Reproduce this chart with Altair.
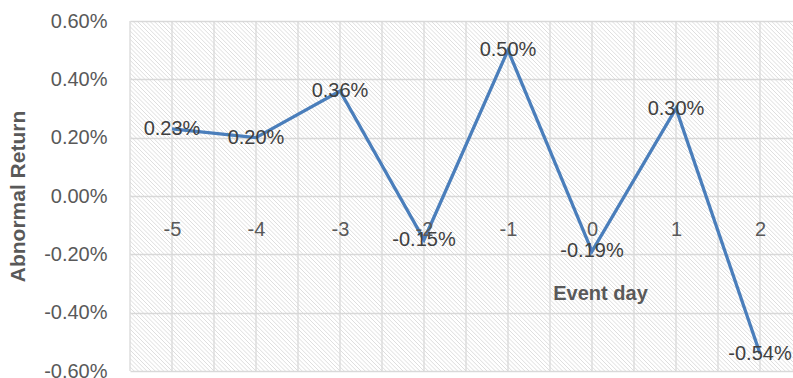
import altair as alt
import pandas as pd

# ---- data ----
days = [-5, -4, -3, -2, -1, 0, 1, 2]
abnormal_return_pct = [0.23, 0.20, 0.36, -0.15, 0.50, -0.19, 0.30, -0.54]
y_ticks_pct = [-0.6, -0.4, -0.2, 0.0, 0.2, 0.4, 0.6]

df = pd.DataFrame({
    "day": days,
    "ar": [v / 100 for v in abnormal_return_pct],
    "label": [f"{v:.2f}%" for v in abnormal_return_pct],
})
grid_df = pd.DataFrame({"g": [d - 0.5 for d in days] + days})

W, H = 663, 350
PX_PER_DAY = 84.0
x_min = days[0] - 0.5
x_max = x_min + W / PX_PER_DAY
y_lo, y_hi = y_ticks_pct[0] / 100, y_ticks_pct[-1] / 100

GRAY = "#595959"
FONT = "Liberation Sans"

x_scale = alt.Scale(domain=[x_min, x_max], nice=False, zero=False)
y_scale = alt.Scale(domain=[y_lo, y_hi], nice=False, zero=False)

x_axis = alt.Axis(
    values=days, labelExpr="'' + datum.value", offset=-175, zindex=1,
    domain=False, ticks=False, grid=False,
    labelBaseline="middle", labelPadding=33, labelFontSize=20, labelColor=GRAY, labelFont=FONT,
    title="Event day", titleX=470, titleY=97, titleBaseline="middle", titleAlign="center",
    titleFontSize=20, titleFontWeight="bold", titleColor=GRAY, titleFont=FONT,
)
y_axis = alt.Axis(
    values=[v / 100 for v in y_ticks_pct],
    labelExpr="replace(format(datum.value, '.2%'), '\u2212', '-')",
    domain=False, ticks=False, grid=True, gridColor="#d9d9d9", gridWidth=1.3,
    labelPadding=23, labelFontSize=20, labelColor=GRAY, labelFont=FONT,
    title="Abnormal Return", titleX=-112, titleY=175, titleAngle=270,
    titleAlign="center", titleBaseline="middle",
    titleFontSize=21, titleFontWeight="bold", titleColor=GRAY, titleFont=FONT,
)

X = alt.X("day:Q", scale=x_scale, axis=x_axis)
Y = alt.Y("ar:Q", scale=y_scale, axis=y_axis)

# diagonal hatch pattern of the plot area (decoration)
span = H / PX_PER_DAY
hatch = (
    alt.Chart(alt.sequence(x_min - span, x_max + 0.05, 0.05, as_="h"))
    .transform_calculate(day="datum.h", day2=f"datum.h + {span}", ar=str(y_hi), ar2=str(y_lo))
    .mark_rule(color="#d6d6d6", strokeWidth=0.8, clip=True)
    .encode(x=X, x2="day2:Q", y=Y, y2="ar2:Q")
)

vgrid = (
    alt.Chart(grid_df)
    .transform_calculate(day="datum.g")
    .mark_rule(color="#d9d9d9", strokeWidth=1.3)
    .encode(x=X, y=alt.value(0), y2=alt.value(H))
)

line = alt.Chart(df).mark_line(color="#4a7ebb", strokeWidth=3.3).encode(x=X, y=Y)

labels = (
    alt.Chart(df)
    .mark_text(fontSize=20, color="#404040", font=FONT, align="center", baseline="middle")
    .encode(x=X, y=Y, text="label:N")
)

chart = (
    alt.layer(hatch, vgrid, line, labels)
    .properties(
        width=W, height=H,
        autosize=alt.AutoSizeParams(type="none"),
        padding={"left": 130, "top": 21, "right": 0, "bottom": 7},
        background="white",
    )
    .configure_view(stroke=None)
)

chart.save("out.html", embed_options={"renderer": "svg", "actions": False})
